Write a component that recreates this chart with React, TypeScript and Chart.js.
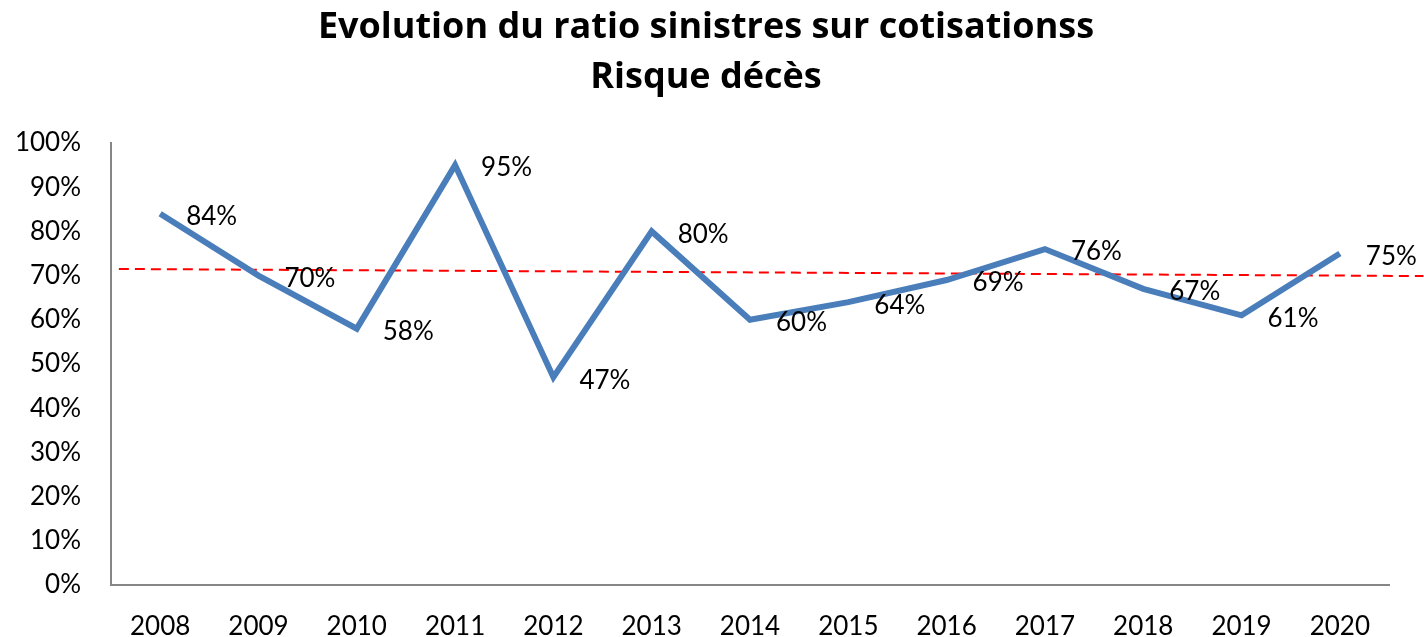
import React, { useEffect, useRef } from "react";
import { Chart, registerables } from "chart.js";

Chart.register(...registerables);

const years = ["2008", "2009", "2010", "2011", "2012", "2013", "2014", "2015", "2016", "2017", "2018", "2019", "2020"];
const ratios = [0.84, 0.70, 0.58, 0.95, 0.47, 0.80, 0.60, 0.64, 0.69, 0.76, 0.67, 0.61, 0.75];
const trendX = [-0.42, 12.85];
const trendY = [0.715, 0.699];
const titleLines = ["Evolution du ratio sinistres sur cotisationss", "Risque décès"];

const FONT = "Lato, 'Open Sans', sans-serif";
const TITLE_FONT = "'Open Sans', Lato, sans-serif";

const labelPlugin = {
  id: "pointLabels",
  afterDatasetsDraw(chart: any) {
    const meta = chart.getDatasetMeta(0);
    const ctx = chart.ctx;
    ctx.save();
    ctx.font = `26px ${FONT}`;
    ctx.fillStyle = "#000";
    ctx.textAlign = "left";
    ctx.textBaseline = "middle";
    meta.data.forEach((pt: any, i: number) => {
      const v = ratios[i];
      ctx.fillText(Math.round(v * 100) + "%", pt.x + 26, pt.y + 3);
    });
    ctx.restore();
  },
};

export default function App() {
  const ref = useRef<HTMLCanvasElement>(null);
  useEffect(() => {
    document.body.style.margin = "0";
    const chart = new Chart(ref.current!, {
      type: "line",
      data: {
        labels: years,
        datasets: [
          {
            data: ratios,
            borderColor: "#4A7EBB",
            borderWidth: 6,
            pointRadius: 0,
            tension: 0,
            borderJoinStyle: "miter",
            xAxisID: "x",
          } as any,
          {
            data: trendX.map((x, i) => ({ x, y: trendY[i] })),
            borderColor: "#FF0000",
            borderWidth: 2,
            borderDash: [10, 6],
            pointRadius: 0,
            xAxisID: "x2",
            clip: false,
          } as any,
        ],
      },
      options: {
        responsive: false,
        animation: false,
        layout: { padding: { left: 0, right: 12, top: 0, bottom: 0 } },
        plugins: {
          legend: { display: false },
          tooltip: { enabled: false },
          title: {
            display: true,
            text: titleLines,
            color: "#000",
            font: { family: TITLE_FONT, size: 36, weight: "bold", lineHeight: 50 / 36 },
            padding: { top: 3, bottom: 40 },
          },
        },
        scales: {
          x: {
            type: "category",
            offset: true,
            grid: { display: false, drawTicks: false },
            border: { display: true, color: "#868686", width: 2 },
            ticks: { color: "#000", font: { family: FONT, size: 26 }, padding: 26, maxRotation: 0, autoSkip: false },
            afterFit: (s: any) => { s.height = 52; },
          },
          x2: {
            type: "linear",
            display: false,
            min: -0.5,
            max: 12.5,
          },
          y: {
            min: 0,
            max: 1,
            grid: { display: false, drawTicks: false },
            border: { display: true, color: "#868686", width: 2 },
            ticks: {
              stepSize: 0.1,
              color: "#000",
              font: { family: FONT, size: 26 },
              padding: 30,
              callback: (v: any) => Math.round(Number(v) * 100) + "%",
            },
            afterFit: (s: any) => { s.width = 111; },
          },
          yRight: {
            type: "linear",
            position: "right",
            min: 0,
            max: 1,
            grid: { display: false, drawTicks: false },
            border: { display: false },
            ticks: { display: false },
            afterFit: (s: any) => { s.width = 23; },
          },
        },
      },
      plugins: [labelPlugin],
    });
    return () => chart.destroy();
  }, []);
  return <canvas ref={ref} width={1424} height={637} />;
}
